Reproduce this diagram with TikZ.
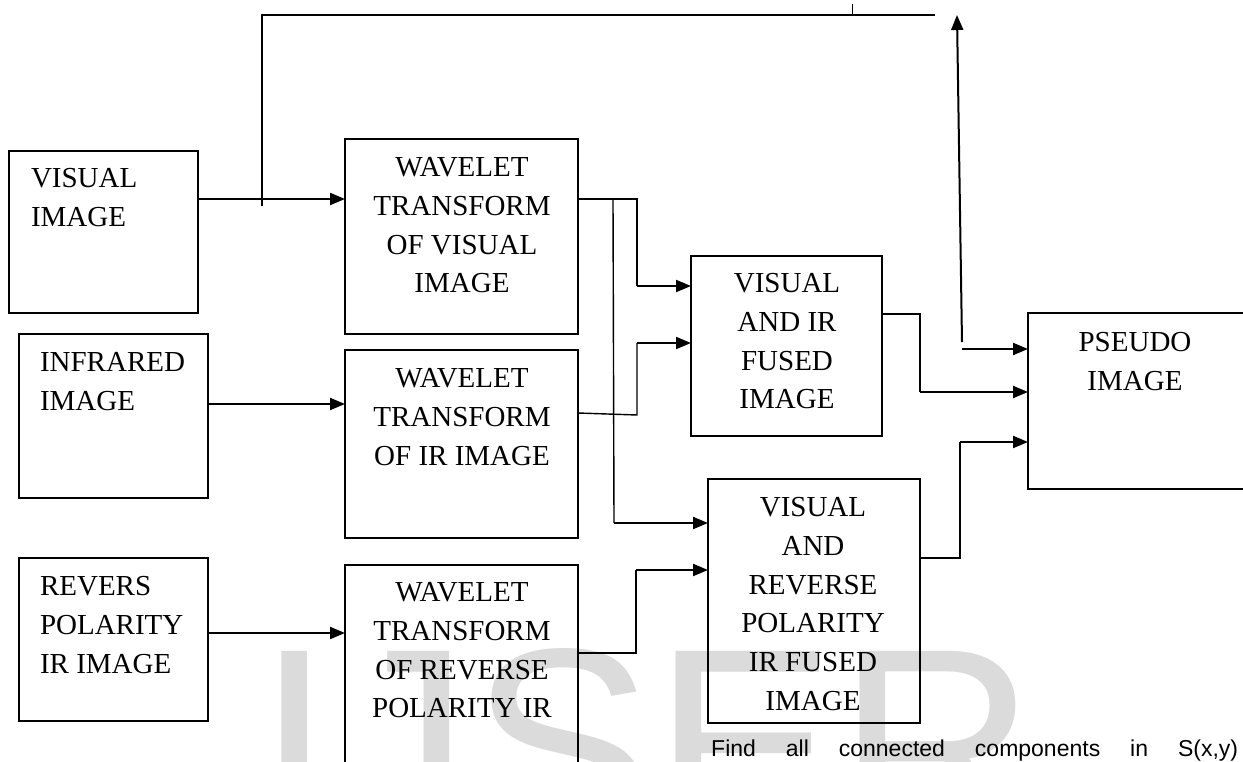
\documentclass[tikz,border=0pt]{standalone}
\usepackage{fontspec}
\setmainfont{Liberation Serif}
\newfontfamily\sansf{Liberation Sans}
\usetikzlibrary{arrows.meta}
\begin{document}
\begin{tikzpicture}[x=1pt,y=-1pt,
  box/.style={draw, line width=1.5pt, rectangle, inner sep=0pt, outer sep=0pt, anchor=north west},
  conn/.style={line width=1.4pt},
  arr/.style={line width=2pt, -{Triangle[length=15pt,width=12pt]}},
  lbl/.style={inner sep=0pt, outer sep=0pt, font=\fontsize{29}{38.7}\selectfont},
  lblc/.style={lbl, anchor=north, align=center},
  lbll/.style={lbl, anchor=north west, align=left},
]
\useasboundingbox (0,0) rectangle (1243,762);
\clip (0,0) rectangle (1243,762);
% watermark
\node[anchor=base west, inner sep=0pt, text=black!14, font=\sansf\fontsize{275}{275}\selectfont] (wm) at (256,840) {IJSER};

% boxes
\node[box, minimum width=189pt, minimum height=162pt] (vis) at (9,151) {};
\node[box, minimum width=189pt, minimum height=164pt] (ir) at (19,334) {};
\node[box, minimum width=189pt, minimum height=163pt] (rev) at (19,558) {};
\node[box, minimum width=233pt, minimum height=195pt] (wtv) at (345,139) {};
\node[box, minimum width=233pt, minimum height=188pt] (wti) at (345,350) {};
\node[box, minimum width=233pt, minimum height=260pt] (wtr) at (345,565) {};
\node[box, minimum width=191pt, minimum height=180pt] (fir) at (691,256) {};
\node[box, minimum width=212pt, minimum height=244pt] (frev) at (708,479) {};
\node[box, minimum width=260pt, minimum height=176pt] (pse) at (1028,313) {};

% texts
\node[lbll] (tvis) at (31,168.5) {VISUAL\\IMAGE};
\node[lbll] (tir) at (40,352.5) {INFRARED\\IMAGE};
\node[lbll] (trev) at (40,576.5) {REVERS\\POLARITY\\IR IMAGE};
\node[lblc] (twtv) at (462,157.5) {WAVELET\\TRANSFORM\\OF VISUAL\\IMAGE};
\node[lblc] (twti) at (462,368.5) {WAVELET\\TRANSFORM\\OF IR IMAGE};
\node[lblc] (twtr) at (462,582.5) {WAVELET\\TRANSFORM\\OF REVERSE\\POLARITY IR};
\node[lblc] (tfir) at (787,273.5) {VISUAL\\AND IR\\FUSED\\IMAGE};
\node[lblc] (tfrev) at (813,497.5) {VISUAL\\AND\\REVERSE\\POLARITY\\IR FUSED\\IMAGE};
\node[lblc] (tpse) at (1135,332.5) {PSEUDO\\IMAGE};

\node[anchor=base west, inner sep=0pt, font=\sansf\fontsize{23}{26}\selectfont] (cap) at (711,756)
  {\makebox[527pt][s]{Find all connected components in S(x,y)}};

% connectors
\draw[arr] (vis.east |- 0,199) -- (wtv.west |- 0,199);
\draw[arr] (ir.east |- 0,404) -- (wti.west |- 0,404);
\draw[arr] (rev.east |- 0,633) -- (wtr.west |- 0,633);

% feedback line
\coordinate (fbs) at (262,206);
\coordinate (fbc) at (262,15);
\coordinate (fbe) at (935,15);
\draw[conn] (fbs) -- (fbc) -- (fbe);
\coordinate (tk) at (852,4);
\draw[line width=1pt] (tk) -- (tk |- fbc);
\coordinate (upb) at (962,342);
\coordinate (upt) at (957,15);
\draw[arr] (upb) -- (upt);
\draw[arr] (upb |- 0,349) -- (pse.west |- 0,349);

% wavelet visual outputs
\coordinate (c1) at (637,199);
\coordinate (c2) at (637,286);
\draw[conn] (wtv.east |- 0,199) -- (c1) -- (c2);
\draw[arr] (c2) -- (fir.west |- c2);
\coordinate (b1) at (613,199);
\coordinate (b2) at (614,523);
\draw[conn] (b1) -- (b2);
\draw[arr] (b2) -- (frev.west |- b2);

% wavelet IR output
\coordinate (d1) at (637,415);
\coordinate (d2) at (637,343);
\draw[conn] (wti.east |- 0,413) -- (d1) -- (d2);
\draw[arr] (d2) -- (fir.west |- d2);

% wavelet reverse output
\coordinate (e1) at (636,653);
\coordinate (e2) at (636,570);
\draw[conn] (wtr.east |- e1) -- (e1) -- (e2);
\draw[arr] (e2) -- (frev.west |- e2);

% fused outputs
\coordinate (f1) at (920,314);
\coordinate (f2) at (920,392);
\draw[conn] (fir.east |- f1) -- (f1) -- (f2);
\draw[arr] (f2) -- (pse.west |- f2);
\coordinate (g1) at (960,558);
\coordinate (g2) at (960,442);
\draw[conn] (frev.east |- g1) -- (g1) -- (g2);
\draw[arr] (g2) -- (pse.west |- g2);
\end{tikzpicture}
\end{document}
